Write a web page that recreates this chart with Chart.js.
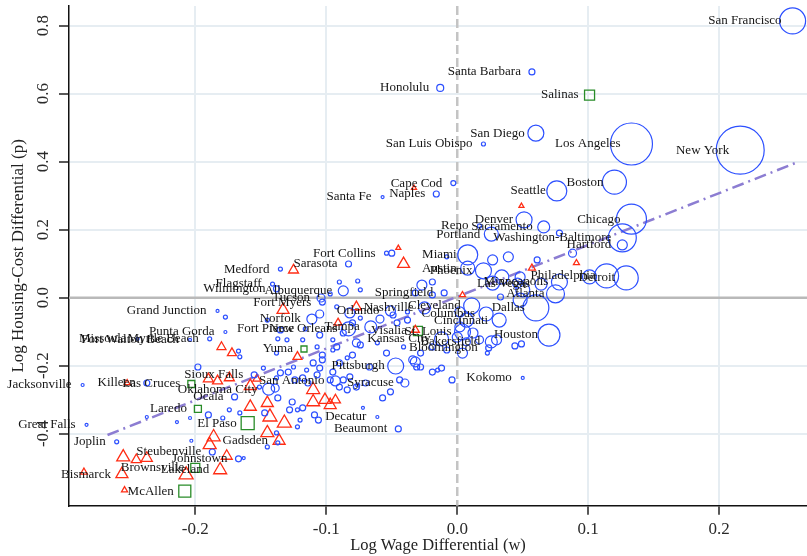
<!DOCTYPE html>
<html><head><meta charset="utf-8">
<script src="https://cdn.jsdelivr.net/npm/chart.js@4.4.0/dist/chart.umd.min.js"></script>
<style>html,body{margin:0;padding:0;background:#fff}#wrap{width:807px;height:556px;position:relative}</style>
</head><body><div id="wrap"><canvas id="c" width="807" height="556"></canvas></div>
<script>
// ---------- axis definitions ----------
const xTicks = [-0.2, -0.1, 0, 0.1, 0.2];
const yTicks = [-0.4, -0.2, 0, 0.2, 0.4, 0.6, 0.8];
const xTitle = 'Log Wage Differential (w)';
const yTitle = 'Log Housing-Cost Differential (p)';

// ---------- blue circles: metro areas (name, log wage diff w, log housing-cost diff p, relative size) ----------
const blueNames = ['San Francisco','Santa Barbara','Honolulu','San Diego','San Luis Obispo','Los Angeles','New York','Boston','Seattle','Cape Cod',
 'Naples','Santa Fe','Denver','Sacramento','Reno','Portland','Chicago','Washington-Baltimore','Hartford','Miami',
 'Detroit','Philadelphia','Minneapolis','Las Vegas','Atlanta','Phoenix','Austin','Dallas','Houston','Cleveland',
 'Columbus','Cincinnati','St. Louis','Kansas City','Bakersfield','Bloomington','Nashville','Springfield','Orlando','Tampa',
 'New Orleans','Fort Pierce','Norfolk','Tucson','Fort Myers','Albuquerque','Wilmington','Flagstaff','Medford','Sarasota',
 'Fort Collins','Pittsburgh','Syracuse','Decatur','Beaumont','Kokomo','San Antonio','Oklahoma City','Sioux Falls','Ocala',
 'Killeen','Jacksonville','Great Falls','Joplin','Steubenville','Johnstown','Missoula','Punta Gorda','Grand Junction','Myrtle Beach',
 'Fort Walton Beach'];
const blueW = [0.256,0.057,-0.013,0.060,0.020,0.133,0.216,0.120,0.076,-0.003,
 -0.016,-0.057,0.051,0.066,0.017,0.026,0.133,0.126,0.126,0.008,
 0.129,0.114,0.078,0.064,0.075,0.020,0.008,0.060,0.070,0.011,
 0.022,0.032,0.004,-0.012,0.026,0.024,-0.025,-0.010,-0.051,-0.066,
 -0.083,-0.116,-0.111,-0.104,-0.103,-0.087,-0.138,-0.141,-0.135,-0.083,
 -0.054,-0.047,-0.040,-0.061,-0.045,0.050,-0.093,-0.144,-0.155,-0.170,
 -0.237,-0.286,-0.283,-0.260,-0.187,-0.167,-0.244,-0.177,-0.183,-0.189,
 -0.204,
 // unlabeled
 -0.050,-0.076,-0.090,-0.097,-0.074,-0.105,-0.092,-0.080,-0.074,-0.059,
 -0.049,-0.046,-0.038,-0.038,-0.027,-0.032,-0.019,-0.019,-0.008,0.027,
 0.039,0.061,0.078,0.088,0.002,0.007,0.050,0.046,0.033,0.048,
 0.034,0.027,0.101,0.048,0.002,0.000,0.007,0.017,-0.008,-0.019,
 -0.028,-0.041,-0.054,-0.061,-0.074,-0.080,-0.084,-0.090,-0.095,-0.103,
 -0.110,-0.095,-0.105,-0.107,-0.118,-0.145,-0.135,-0.130,-0.138,-0.034,
 -0.031,-0.019,-0.015,-0.012,-0.004,-0.044,-0.051,-0.072,0.023,0.004,
 0.030,0.012,-0.082,-0.087,-0.077,-0.092,-0.095,-0.082,-0.090,-0.077,
 -0.067,-0.103,-0.105,-0.097,-0.135,-0.129,-0.124,-0.118,-0.114,-0.139,
 -0.126,-0.128,-0.118,-0.120,-0.109,-0.106,-0.122,-0.138,-0.145,-0.137,
 -0.087,-0.084,-0.076,-0.070,-0.057,-0.032,-0.028,-0.177,-0.166,-0.167,
 -0.198,-0.137,-0.148,-0.107,-0.115,-0.138,-0.125,-0.147,-0.122,-0.137,
 -0.151,-0.190,-0.179,-0.214,-0.204,0.044,0.049,-0.174,-0.166,-0.237,
 -0.203,-0.163];
const blueP = [0.814,0.664,0.617,0.484,0.452,0.452,0.434,0.340,0.314,0.337,
 0.305,0.296,0.229,0.208,0.211,0.187,0.231,0.176,0.155,0.126,
 0.058,0.064,0.046,0.040,0.011,0.079,0.087,-0.030,-0.110,-0.024,
 -0.048,-0.066,-0.101,-0.121,-0.130,-0.148,-0.030,0.014,-0.039,-0.086,
 -0.092,-0.092,-0.063,-0.001,-0.013,0.020,0.026,0.040,0.084,0.099,
 0.131,-0.201,-0.251,-0.351,-0.386,-0.236,-0.245,-0.269,-0.227,-0.292,
 -0.251,-0.257,-0.374,-0.424,-0.454,-0.474,-0.121,-0.101,-0.039,-0.121,
 -0.124,
 // unlabeled
 0.131,0.049,0.046,0.011,0.023,-0.048,-0.027,-0.074,-0.060,-0.063,
 -0.051,-0.074,-0.066,-0.042,0.037,0.014,0.046,0.008,0.120,0.111,
 0.120,0.111,0.190,0.131,-0.042,-0.066,0.023,0.043,0.002,0.061,
 0.061,0.043,0.061,-0.007,-0.086,-0.116,-0.130,-0.124,-0.154,-0.145,
 -0.163,-0.145,-0.163,-0.133,-0.139,-0.169,-0.177,-0.192,-0.154,-0.183,
 -0.192,-0.124,-0.110,-0.145,-0.124,-0.066,-0.095,-0.124,-0.163,-0.183,
 -0.204,-0.219,-0.213,-0.207,-0.242,-0.242,-0.277,-0.324,-0.163,-0.163,
 -0.124,-0.104,-0.045,-0.104,-0.133,-0.145,-0.219,-0.233,-0.263,-0.263,
 -0.204,-0.169,-0.207,-0.242,-0.221,-0.219,-0.242,-0.236,-0.251,-0.266,
 -0.307,-0.330,-0.324,-0.360,-0.345,-0.360,-0.380,-0.398,-0.439,-0.427,
 -0.242,-0.271,-0.257,-0.251,-0.295,-0.189,-0.204,-0.057,-0.174,-0.157,
 -0.204,-0.121,-0.207,-0.227,-0.213,-0.236,-0.204,-0.339,-0.330,-0.295,
 -0.263,-0.345,-0.354,-0.366,-0.354,-0.142,-0.136,-0.330,-0.339,-0.351,
 -0.421,-0.472];
const blueSize = [13,3,3.5,8,2,21,24,12,10,2.5,
 3,1.5,8,6,2,7,15,14,5,10,
 12,12,8,6,9,8,7,13,11,8,
 7,7,8,7,6,3,6,3,5,6,
 7,2,5,4,3,5,3,2,2,3,
 2,8,4,1.5,3,1.5,5,6,3,3,
 3,1.5,1.5,2,3,3,1.5,1.5,1.5,2,
 1.5,
 // unlabeled
 3,2,2,2,2,4,2,3,2,4,
 3,3,3,2,5,3,3,3,2,5,
 5,3,3,4,5,7,7,5,3,5,
 7,7,7,7,5,5,4,4,3,3,
 3,2,3,2,3,3,2,3,2,3,
 3,2,3,2,2,2,3,2,2,4,
 3,3,2,3,3,3,3,1.5,2,5,
 5,5,5,3,4,3,3,3,3,3,
 3,3,3,3,3,3,3,3,3,4,
 3,3,3,2,3,3,2,2,2,2,
 3,3,2,3,3,5,3,2,2,2,
 3,2,2,3,2,2,2,3,2,3,
 2,3,2,1.5,1.5,3,3,2,2,1.5,
 1.5,1.5];

// ---------- red triangles ----------
const redNames = ['Gadsden','Bismarck','Lakeland'];
const redW = [-0.136,-0.256,-0.181,
 -0.033,0.049,-0.045,-0.041,-0.125,0.091,0.057,0.004,-0.133,-0.077,
 -0.091,-0.032,-0.180,-0.172,-0.122,-0.190,-0.183,-0.174,-0.158,-0.153,
 -0.252,-0.110,-0.110,-0.101,-0.097,-0.093,-0.145,-0.158,-0.143,-0.132,
 -0.145,-0.186,-0.189,-0.176,-0.255,-0.245,-0.237,-0.207,-0.285,-0.254];
const redP = [-0.421,-0.519,-0.507,
 0.323,0.270,0.146,0.099,0.081,0.102,0.087,0.008,-0.036,-0.027,
 -0.074,-0.095,-0.145,-0.163,-0.174,-0.239,-0.245,-0.236,-0.260,-0.239,
 -0.251,-0.271,-0.307,-0.301,-0.316,-0.301,-0.310,-0.321,-0.351,-0.369,
 -0.398,-0.410,-0.433,-0.466,-0.469,-0.477,-0.472,-0.521,-0.513,-0.566];
const redSize = [12,12,13,
 5,5,5,12,10,6,7,6,12,10,
 8,8,9,9,9,10,10,10,12,8,
 6,13,13,12,12,10,12,12,14,14,
 13,13,13,11,13,10,11,14,7,6];

// ---------- green squares ----------
const greenNames = ['Salinas','Visalia','Yuma','Las Cruces','Laredo','El Paso','McAllen','Brownsville'];
const greenW = [0.101,-0.030,-0.117,-0.203,-0.198,-0.160,-0.208,-0.200];
const greenP = [0.596,-0.098,-0.151,-0.254,-0.327,-0.369,-0.569,-0.501];
const greenSize = [10,9,6,7,7,13,12,9];

// ---------- fitted line endpoints ----------
const fitW = [-0.267, 0.258];
const fitP = [-0.404, 0.396];

const FONT = '"Liberation Serif", "DejaVu Serif", serif';
const pts = (w, p) => w.map((v, i) => ({x: v, y: p[i]}));

const groups = [
  {names: blueNames, w: blueW, p: blueP},
  {names: redNames, w: redW, p: redP},
  {names: greenNames, w: greenW, p: greenP}
];

const refPlugin = {
  id: 'refLines',
  beforeDatasetsDraw(chart) {
    const {ctx, chartArea: a, scales: {x, y}} = chart;
    ctx.save();
    const y0 = y.getPixelForValue(0);
    ctx.strokeStyle = '#b9b9b9'; ctx.lineWidth = 2.5;
    ctx.beginPath(); ctx.moveTo(a.left, y0); ctx.lineTo(a.right, y0); ctx.stroke();
    const x0 = x.getPixelForValue(0);
    ctx.strokeStyle = '#c4c4c4'; ctx.setLineDash([9, 4]);
    ctx.beginPath(); ctx.moveTo(x0, a.top); ctx.lineTo(x0, a.bottom); ctx.stroke();
    ctx.restore();
  },
  afterDatasetsDraw(chart) {
    const {ctx, scales: {x, y}} = chart;
    ctx.save();
    ctx.font = '13px ' + FONT; ctx.fillStyle = '#151515';
    ctx.textAlign = 'right'; ctx.textBaseline = 'middle';
    groups.forEach(g => g.names.forEach((n, i) => {
      if (!n) return;
      ctx.fillText(n, x.getPixelForValue(g.w[i]) - 11, y.getPixelForValue(g.p[i]));
    }));
    ctx.restore();
  },
  afterDraw(chart) {
    const {ctx, scales: {y}} = chart;
    ctx.save();
    ctx.font = '17px ' + FONT; ctx.fillStyle = '#2a2a2a';
    ctx.textAlign = 'center'; ctx.textBaseline = 'middle';
    yTicks.forEach(v => {
      ctx.save();
      ctx.translate(44, y.getPixelForValue(v));
      ctx.rotate(-Math.PI / 2);
      ctx.fillText(v.toFixed(1), 0, 0);
      ctx.restore();
    });
    ctx.restore();
  }
};

const gridColor = c => (c.tick && Math.abs(c.tick.value) < 1e-9) ? 'rgba(0,0,0,0)' : '#e6edf2';

new Chart(document.getElementById('c'), {
  type: 'scatter',
  data: {
    datasets: [
      {label: 'blue', data: pts(blueW, blueP), pointStyle: 'circle',
       pointRadius: c => blueSize[c.dataIndex], borderColor: 'rgb(45,80,255)', backgroundColor: 'rgba(0,0,0,0)', borderWidth: 1.2},
      {label: 'red', data: pts(redW, redP), pointStyle: 'triangle',
       pointRadius: c => redSize[c.dataIndex] / 1.732, borderColor: 'rgb(255,45,20)', backgroundColor: 'rgba(0,0,0,0)', borderWidth: 1.3},
      {label: 'green', data: pts(greenW, greenP), pointStyle: 'rect',
       pointRadius: c => greenSize[c.dataIndex] / 1.414, borderColor: 'rgb(40,140,40)', backgroundColor: 'rgba(0,0,0,0)', borderWidth: 1.3},
      {type: 'line', label: 'fit', data: pts(fitW, fitP), borderColor: 'rgb(140,125,210)', borderWidth: 2.5,
       borderDash: [12, 5, 2, 5], pointRadius: 0, fill: false}
    ]
  },
  options: {
    responsive: false, animation: false, devicePixelRatio: 1,
    layout: {autoPadding: false, padding: {top: 6, left: 0, right: 0, bottom: 0}},
    plugins: {legend: {display: false}, tooltip: {enabled: false}},
    scales: {
      x: {
        type: 'linear', min: -0.2964, max: 0.267, position: 'bottom',
        afterBuildTicks: s => { s.ticks = xTicks.map(v => ({value: v})); },
        afterFit: s => { s.height = 50.3; },
        ticks: {callback: v => Number(v).toFixed(1), font: {family: FONT, size: 17}, color: '#2a2a2a', padding: 5, maxRotation: 0, autoSkip: false},
        grid: {color: gridColor, lineWidth: 2, drawTicks: true, tickLength: 9, tickColor: '#222', tickWidth: 1.5},
        border: {color: '#111', width: 1.5},
        title: {display: true, text: xTitle, font: {family: FONT, size: 16.5}, color: '#222', padding: {top: 0, bottom: 0}}
      },
      y: {
        type: 'linear', min: -0.612, max: 0.858,
        afterBuildTicks: s => { s.ticks = yTicks.map(v => ({value: v})); },
        afterFit: s => { s.width = 69; },
        ticks: {display: false},
        grid: {color: gridColor, lineWidth: 2, drawTicks: true, tickLength: 10, tickColor: '#222', tickWidth: 1.5},
        border: {color: '#111', width: 1.5},
        title: {display: true, text: yTitle, font: {family: FONT, size: 17}, color: '#222', padding: {top: 8, bottom: 0}}
      }
    }
  },
  plugins: [refPlugin]
});
</script>
</body></html>
